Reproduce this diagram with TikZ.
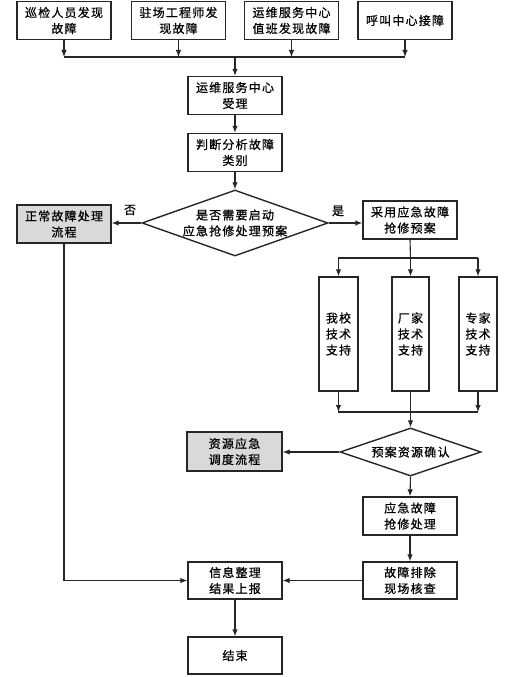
\documentclass[tikz,border=0pt]{standalone}
\usepackage{fontspec}
\setmainfont[LetterSpace=10,FakeBold=0.8]{Noto Sans CJK SC}
\usetikzlibrary{shapes.geometric,arrows.meta}
\tikzset{
  box/.style={draw=black!85, line width=1.4pt, minimum width=94pt, minimum height=38pt, inner sep=0pt, align=center, font=\fontsize{12}{16}\selectfont},
  graybox/.style={box, fill=black!15},
  tallbox/.style={box, minimum width=38pt, minimum height=114pt},
  dia/.style={draw=black!85, line width=1.4pt, shape=diamond, inner sep=0pt},
  txt/.style={inner sep=0pt, align=center, font=\fontsize{12}{16}\selectfont},
  conn/.style={line width=1.1pt, draw=black!85},
  arr/.style={conn, -{Latex[length=7pt,width=5.5pt]}}
}
\begin{document}
\begin{tikzpicture}[x=1pt,y=-1pt]
\useasboundingbox (0,0) rectangle (511,677);
% top row
\node[box] (t1) at (64,20.5) {巡检人员发现\\故障};
\node[box] (t2) at (178.5,20.5) {驻场工程师发\\现故障};
\node[box] (t3) at (291.5,20.5) {运维服务中心\\值班发现故障};
\node[box] (t4) at (405,20.5) {呼叫中心接障};
\coordinate (busl) at (64,57);
\coordinate (busr) at (405,57);
\coordinate (busm) at (235,57);
\foreach \n in {t1,t2,t3,t4} \draw[arr] (\n.south) -- (\n.south |- busl);
\draw[conn] (busl) -- (busr);
\node[box] (acc) at (235,95.5) {运维服务中心\\受理};
\draw[arr] (busm) -- (acc.north);
\node[box] (judge) at (235,152.5) {判断分析故障\\类别};
\draw[arr] (acc.south) -- (judge.north);
\node[dia, minimum width=186pt, minimum height=66pt] (d1) at (235,223) {};
\node[txt] (d1t) at (d1) {是否需要启动\\应急抢修处理预案};
\draw[arr] (judge.south) -- (d1.north);
\node[graybox] (normal) at (64,224) {正常故障处理\\流程};
\node[box] (plan) at (410,220) {采用应急故障\\抢修预案};
\draw[arr] (d1.west) -- (d1.west -| normal.east);
\draw[arr] (d1.east) -- (d1.east -| plan.west);
\node[txt] (no) at (130,210) {否};
\node[txt] (yes) at (338,211) {是};
% support boxes
\node[tallbox, minimum width=39pt] (s1) at (338.5,334) {我校\\技术\\支持};
\node[tallbox, minimum width=37pt] (s2) at (410.5,334) {厂家\\技术\\支持};
\node[tallbox] (s3) at (478,334) {专家\\技术\\支持};
\coordinate (b2l) at (338,258);
\coordinate (b2r) at (478,258);
\coordinate (b2m) at (410.5,258);
\draw[conn] (plan.south) -- (b2m);
\draw[conn] (b2l) -- (b2r);
\foreach \n in {s1,s2,s3} \draw[arr] (\n.north |- b2l) -- (\n.north);
\coordinate (b3l) at (338,412);
\coordinate (b3r) at (478,412);
\coordinate (b3m) at (410.5,412);
\draw[arr] (s1.south) -- (s1.south |- b3l);
\draw[conn] (s2.south) -- (b3m);
\draw[arr] (s3.south) -- (s3.south |- b3l);
\draw[conn] (b3l) -- (b3r);
\node[dia, minimum width=141pt, minimum height=48pt] (d2) at (410.5,452) {};
\node[txt] (d2t) at (d2) {预案资源确认};
\draw[arr] (b3m) -- (d2.north);
\node[graybox, minimum width=95pt, minimum height=39pt] (res) at (234.5,451.5) {资源应急\\调度流程};
\draw[arr] (d2.west) -- (d2.west -| res.east);
\node[box] (handle) at (410,516) {应急故障\\抢修处理};
\draw[arr] (d2.south) -- (handle.north);
\node[box, minimum height=37pt] (check) at (410,580.5) {故障排除\\现场核查};
\draw[arr] (handle.south) -- (check.north);
\node[box, minimum height=37pt] (info) at (235,580.5) {信息整理\\结果上报};
\draw[arr] (check.west) -- (info.east);
\draw[arr] (normal.south) |- (info.west);
\node[box, minimum height=37pt] (end) at (235,655.5) {结束};
\draw[arr] (info.south) -- (end.north);
\end{tikzpicture}
\end{document}
